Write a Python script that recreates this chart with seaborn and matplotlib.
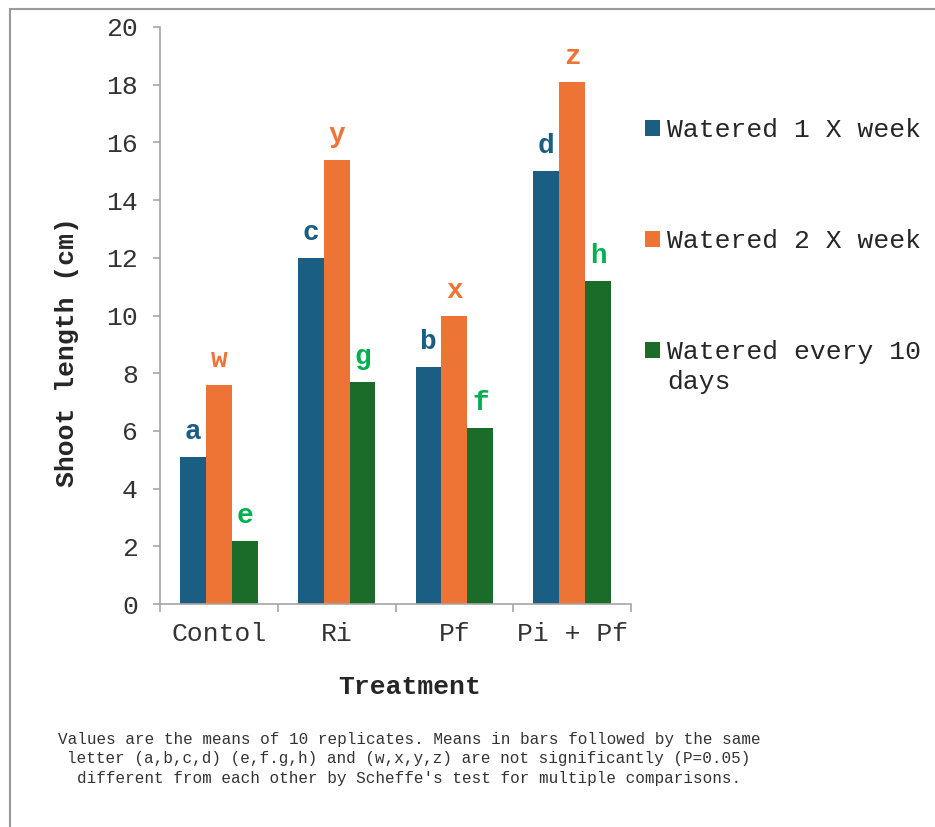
import pandas as pd
import seaborn as sns
import matplotlib.pyplot as plt
from matplotlib.lines import Line2D

treatments = ["Contol", "Ri", "Pf", "Pi + Pf"]
watering = ["Watered 1 X week", "Watered 2 X week", "Watered every 10 days"]
once_week = [5.1, 12.0, 8.2, 15.0]
twice_week = [7.6, 15.4, 10.0, 18.1]
every_10_days = [2.2, 7.7, 6.1, 11.2]
letters_once = ["a", "c", "b", "d"]
letters_twice = ["w", "y", "x", "z"]
letters_10 = ["e", "g", "f", "h"]

bar_colors = ["#1a5e84", "#ed7434", "#1b6b29"]
letter_colors = ["#1a5e84", "#ed7434", "#00b050"]

note = ("Values are the means of 10 replicates. Means in bars followed by the same\n"
        "letter (a,b,c,d) (e,f.g,h) and (w,x,y,z) are not significantly (P=0.05)\n"
        "different from each other by Scheffe's test for multiple comparisons.")

df = pd.DataFrame({
    "Treatment": treatments * 3,
    "Shoot": once_week + twice_week + every_10_days,
    "Watering": [watering[0]] * 4 + [watering[1]] * 4 + [watering[2]] * 4,
})

sns.set_style("white")
plt.rcParams["font.family"] = ["Liberation Mono", "DejaVu Sans Mono"]

fig = plt.figure(figsize=(9.35, 8.27), dpi=100)
ax = fig.add_axes([160 / 935, 1 - 604 / 827, 471 / 935, 577 / 827])

sns.barplot(data=df, x="Treatment", y="Shoot", hue="Watering", palette=bar_colors,
            width=0.66, gap=0, saturation=1, linewidth=0, ax=ax, legend=True)

# significance letters above each bar
for container, labs, col in zip(ax.containers, [letters_once, letters_twice, letters_10], letter_colors):
    for bar, lab in zip(container, labs):
        ax.annotate(lab, (bar.get_x() + bar.get_width() / 2, bar.get_height()),
                    xytext=(0, 18), textcoords="offset points", ha="center", va="center",
                    color=col, fontsize=20, fontweight="bold")

ax.set_ylim(0, 20)
ax.set_xlim(-0.5, 3.5)
ax.set_yticks(range(0, 21, 2))
spine_col = "#a6a6a6"
for s in ["top", "right"]:
    ax.spines[s].set_visible(False)
for s in ["left", "bottom"]:
    ax.spines[s].set_color(spine_col)
    ax.spines[s].set_linewidth(1.2)
ax.tick_params(axis="y", direction="out", length=5, color=spine_col, width=1.2,
               labelsize=19, labelcolor="#333333", pad=11, left=True)
ax.tick_params(axis="x", which="major", length=0, labelsize=19, labelcolor="#333333", pad=13)
ax.set_xticks([-0.5, 0.5, 1.5, 2.5, 3.5], minor=True)
ax.tick_params(axis="x", which="minor", direction="out", length=6, color=spine_col,
               width=1.2, bottom=True)

ax.set_xlabel("Treatment", fontsize=19, fontweight="bold")
ax.set_ylabel("Shoot length (cm)", fontsize=19, fontweight="bold")
ax.xaxis.set_label_coords(0.53, -0.123)
ax.yaxis.set_label_coords(-0.172, 0.437)

handles, labels = ax.get_legend_handles_labels()
labels[2] = "Watered every 10"
leg = ax.legend(handles, labels, loc="upper left", bbox_to_anchor=(645 / 935, 1 - 118 / 827),
                bbox_transform=fig.transFigure, frameon=False, fontsize=19,
                handlelength=0.55, handleheight=0.55, handletextpad=0.3,
                labelspacing=3.3, borderpad=0, borderaxespad=0)

# second line of the last legend label, under its first line
fig.canvas.draw()
bb = leg.get_texts()[2].get_window_extent().transformed(fig.transFigure.inverted())
fig.text(bb.x0, bb.y0 - 30 / 827, "days", ha="left", va="bottom", fontsize=19,
         color=leg.get_texts()[2].get_color())

fig.text(409 / 935, 1 - 732 / 827, note, ha="center", va="top", fontsize=11.5,
         color="#333333", linespacing=1.37)

fig.add_artist(Line2D([10 / 935, 1], [1 - 9 / 827, 1 - 9 / 827], color="#999999", lw=1.5))
fig.add_artist(Line2D([10 / 935, 10 / 935], [0, 1 - 9 / 827], color="#999999", lw=1.5))

fig.savefig("out.png", dpi=100)
